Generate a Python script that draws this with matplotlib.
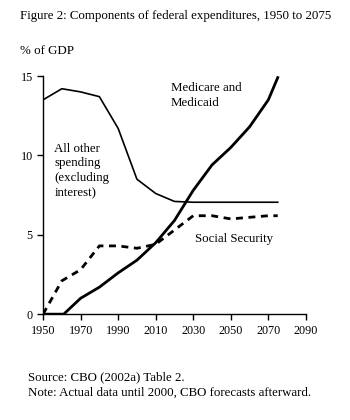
import matplotlib
matplotlib.use("Agg")
import matplotlib.pyplot as plt

years = [1950, 1960, 1970, 1980, 1990, 2000, 2010, 2020, 2030, 2040, 2050, 2060, 2070, 2075]
other = [13.5, 14.2, 14.0, 13.7, 11.7, 8.5, 7.6, 7.1, 7.05, 7.05, 7.05, 7.05, 7.05, 7.05]
med_years = [1950, 1961, 1970, 1980, 1990, 2000, 2010, 2020, 2030, 2040, 2050, 2060, 2070, 2075]
medicare = [0, 0, 1.0, 1.7, 2.6, 3.4, 4.5, 5.9, 7.8, 9.4, 10.5, 11.8, 13.5, 14.9]
social = [0, 2.1, 2.8, 4.3, 4.3, 4.15, 4.4, 5.3, 6.2, 6.2, 6.0, 6.1, 6.2, 6.2]

plt.rcParams['font.family'] = ['Liberation Serif', 'DejaVu Serif']
plt.rcParams['font.size'] = 9.3

fig = plt.figure(figsize=(3.5, 4.2), dpi=100)
ax = fig.add_axes([0.123, 0.252, 0.751, 0.567])

ax.plot(years, other, color="black", lw=1.2)
ax.plot(med_years, medicare, color="black", lw=2)
ax.plot(years, social, color="black", lw=2, linestyle=(0, (2.5, 2)))

ax.set_xlim(1950, 2090)
ax.set_ylim(0, 15)
ax.set_xticks(range(1950, 2091, 20))
ax.set_yticks([0, 5, 10, 15])
ax.spines['top'].set_visible(False)
ax.spines['right'].set_visible(False)
ax.tick_params(direction="out", length=4, width=1, labelsize=8.7)
for s in ['left', 'bottom']:
    ax.spines[s].set_linewidth(1)

ax.text(2018, 14.6, "Medicare and\nMedicaid", va="top", linespacing=1.3)
ax.text(1956, 10.8, "All other\nspending\n(excluding\ninterest)", va="top", linespacing=1.3)
ax.text(2031, 5.1, "Social Security", va="top")

fig.text(0.057, 0.975, "Figure 2: Components of federal expenditures, 1950 to 2075", va="top")
fig.text(0.057, 0.893, "% of GDP", va="top")
fig.text(0.08, 0.115, "Source: CBO (2002a) Table 2.", va="top")
fig.text(0.08, 0.08, "Note: Actual data until 2000, CBO forecasts afterward.", va="top")

fig.savefig("out.png", dpi=100)
